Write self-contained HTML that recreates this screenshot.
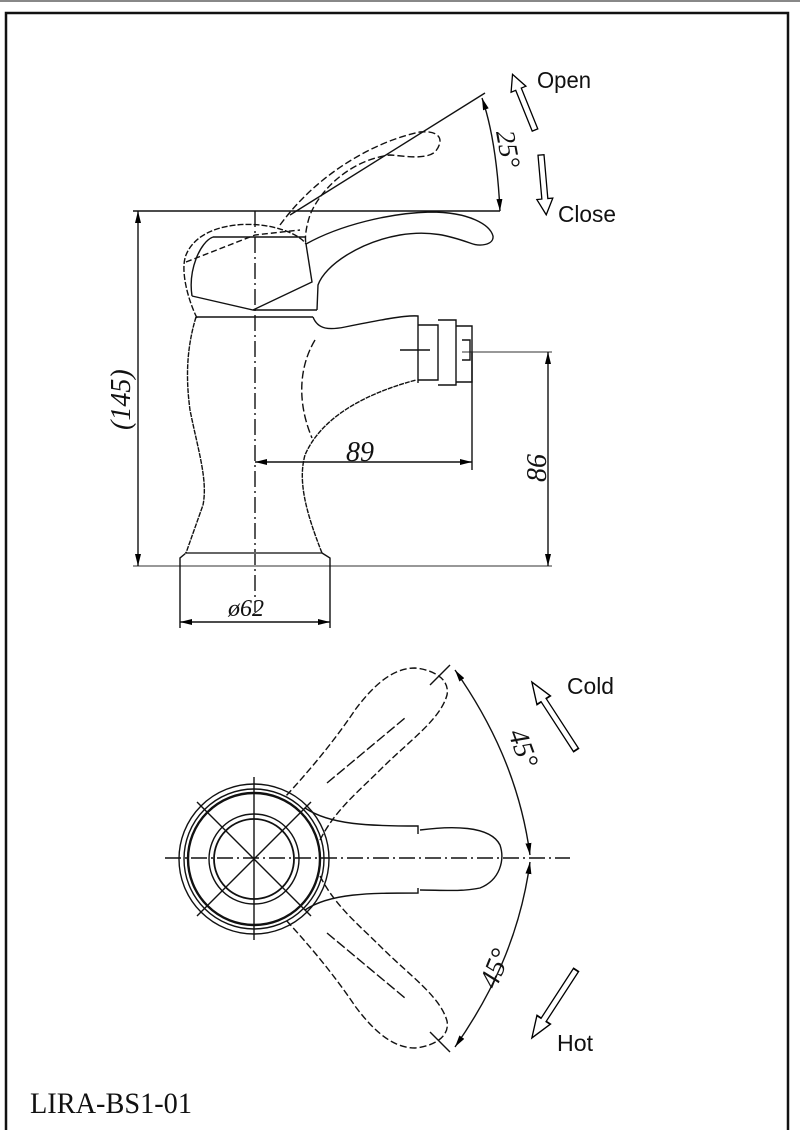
<!DOCTYPE html>
<html><head><meta charset="utf-8"><style>
html,body{margin:0;padding:0;background:#fff;}
svg{display:block}
text{font-family:"Liberation Sans",Arial,sans-serif;fill:#111}
.s{font-family:"Liberation Serif",serif;font-style:italic}
</style></head><body>
<svg width="800" height="1130" viewBox="0 0 800 1130" xmlns="http://www.w3.org/2000/svg">
<defs>
<marker id="a" viewBox="0 0 12 6" refX="12" refY="3" markerWidth="12" markerHeight="6" markerUnits="userSpaceOnUse" orient="auto-start-reverse"><path d="M0,0 L12,3 L0,6 z" fill="#000"/></marker>
<polygon id="ho" points="0,-3 44,-3 44,-8 60,0 44,8 44,3 0,3" fill="#fff" stroke="#000" stroke-width="1.3"/>
</defs>
<rect width="800" height="1130" fill="#fff"/>
<line x1="0" y1="1" x2="800" y2="1" stroke="#888" stroke-width="2"/>
<path d="M6,1130 V13 H788 V1130" fill="none" stroke="#111" stroke-width="2.5"/>

<g fill="none" stroke="#111" stroke-width="1.4">
<line x1="133" y1="211" x2="500" y2="211"/>
<line x1="133" y1="566" x2="552" y2="566" stroke="#777"/>
<line x1="138" y1="211" x2="138" y2="566" marker-start="url(#a)" marker-end="url(#a)"/>
<line x1="255" y1="462" x2="472" y2="462" marker-start="url(#a)" marker-end="url(#a)"/>
<line x1="472" y1="352" x2="472" y2="470"/>
<line x1="462" y1="352" x2="552" y2="352" stroke="#777"/>
<line x1="548" y1="352" x2="548" y2="566" marker-start="url(#a)" marker-end="url(#a)"/>
<line x1="180" y1="566" x2="180" y2="628"/>
<line x1="330" y1="566" x2="330" y2="628"/>
<line x1="180" y1="622" x2="330" y2="622" marker-start="url(#a)" marker-end="url(#a)"/>
<line x1="255" y1="211" x2="255" y2="612" stroke-dasharray="16,4,2,4"/>
<path d="M186,553 L180,558 V566 M322,553 L330,558 V566"/>
<line x1="185" y1="553" x2="322" y2="553" stroke="#666" stroke-width="2"/>
<path d="M196,317 C186,350 186,380 190,410 C198,450 208,480 203,505 L186,553" stroke-dasharray="5,1"/>
<path d="M322,553 C305,510 298,480 305,455 C320,420 360,395 416,380" stroke-dasharray="5,1"/>
<path d="M315,340 C300,365 296,400 312,438" stroke-dasharray="8,3"/>
<line x1="196" y1="317" x2="313" y2="317"/>
<line x1="253" y1="310" x2="317" y2="310"/>
<path d="M313,317 C318,330 330,330 345,327 C380,320 405,315 418,316 V383"/>
<path d="M418,325 H438 V380 H418"/>
<path d="M438,320 H456 V385 H438"/>
<path d="M456,326 H472 V382 H456"/>
<path d="M462,340 H470 V360 H462"/>
<line x1="400" y1="350" x2="430" y2="350"/>
<path d="M192,296 L253,310 L312,282 L306,244 M213,237 H306"/>
<path d="M306,244 C340,225 390,213 430,212 C470,212 490,225 493,236 C494,245 480,247 470,243 C450,236 430,230 400,235 C360,242 325,265 318,285 L317,310"/>
<path d="M192,296 C188,270 200,242 213,237" />
<path d="M197,318 C188,300 180,270 186,255 C196,230 230,222 260,225 C280,227 300,235 306,244" stroke-dasharray="6,2"/>
<path d="M186,262 L255,235 L300,230" stroke-dasharray="6,3"/>
<path d="M280,225 C320,170 380,140 420,132 C440,130 445,140 435,152 C425,160 405,156 390,155 C350,160 320,190 310,215 C305,230 305,240 306,244" stroke-dasharray="7,3"/>
<line x1="290" y1="215" x2="485" y2="93"/>
<path d="M482,98 C493,130 498,170 500,211" marker-start="url(#a)" marker-end="url(#a)"/>

<!-- lower view -->
<line x1="165" y1="858" x2="570" y2="858" stroke-dasharray="16,4,2,4"/>
<line x1="254" y1="777" x2="254" y2="940"/>
<line x1="197" y1="802" x2="311" y2="916"/>
<line x1="197" y1="916" x2="311" y2="802"/>
<circle cx="254" cy="859" r="75"/>
<circle cx="254" cy="859" r="70"/>
<circle cx="254" cy="859" r="66" stroke-width="2.4"/>
<circle cx="254" cy="859" r="45"/>
<circle cx="254" cy="859" r="40" stroke-width="1.8"/>
<path d="M305,808 C330,825 370,826 418,826 V834 M305,910 C330,893 370,893 418,893 V888"/>
<path d="M420,830 C450,826 490,825 500,845 C505,860 500,880 480,888 C460,892 440,890 420,890"/>
<path d="M320,840 C335,810 360,790 380,770 C410,740 440,720 447,695 C450,680 435,670 415,668 C390,668 370,690 355,710 C335,740 310,770 285,797" stroke-dasharray="7,3"/>
<line x1="327" y1="783" x2="405" y2="718" stroke-dasharray="10,3"/>
<path d="M320,876 C335,906 360,926 380,946 C410,976 440,996 447,1021 C450,1036 435,1046 415,1048 C390,1048 370,1026 355,1006 C335,976 310,946 285,919" stroke-dasharray="7,3"/>
<line x1="327" y1="933" x2="405" y2="998" stroke-dasharray="10,3"/>
<line x1="450" y1="665" x2="430" y2="685"/>
<line x1="450" y1="1052" x2="430" y2="1032"/>
<path d="M455,670 C490,720 520,780 530,855" marker-start="url(#a)" marker-end="url(#a)"/>
<path d="M455,1047 C490,997 520,937 530,862" marker-start="url(#a)" marker-end="url(#a)"/>
</g>

<use href="#ho" transform="translate(535,130) rotate(-112)"/>
<use href="#ho" transform="translate(541,155) rotate(85)"/>
<use href="#ho" transform="translate(576,750) rotate(-123) scale(1.35,1)"/>
<use href="#ho" transform="translate(576,970) rotate(123) scale(1.35,1)"/>

<text x="537" y="88" font-size="23" textLength="54" lengthAdjust="spacingAndGlyphs">Open</text>
<text x="558" y="222" font-size="23" textLength="58" lengthAdjust="spacingAndGlyphs">Close</text>
<text x="567" y="694" font-size="23" textLength="47" lengthAdjust="spacingAndGlyphs">Cold</text>
<text x="557" y="1051" font-size="23" textLength="36" lengthAdjust="spacingAndGlyphs">Hot</text>
<text class="s" font-size="27" transform="translate(496,132) rotate(80)">25°</text>
<text class="s" font-size="28" transform="translate(508,733) rotate(70)">45°</text>
<text class="s" font-size="28" transform="translate(496,990) rotate(-68)">45°</text>
<text class="s" font-size="28" transform="translate(130,430) rotate(-90)">(145)</text>
<text class="s" font-size="28" x="346" y="461">89</text>
<text class="s" font-size="28" transform="translate(546,482) rotate(-90)">86</text>
<text class="s" font-size="24" x="228" y="616">ø62</text>
<text x="30" y="1113" font-size="30" style="font-family:'Liberation Serif',serif" textLength="162" lengthAdjust="spacingAndGlyphs">LIRA-BS1-01</text>
</svg>
</body></html>
